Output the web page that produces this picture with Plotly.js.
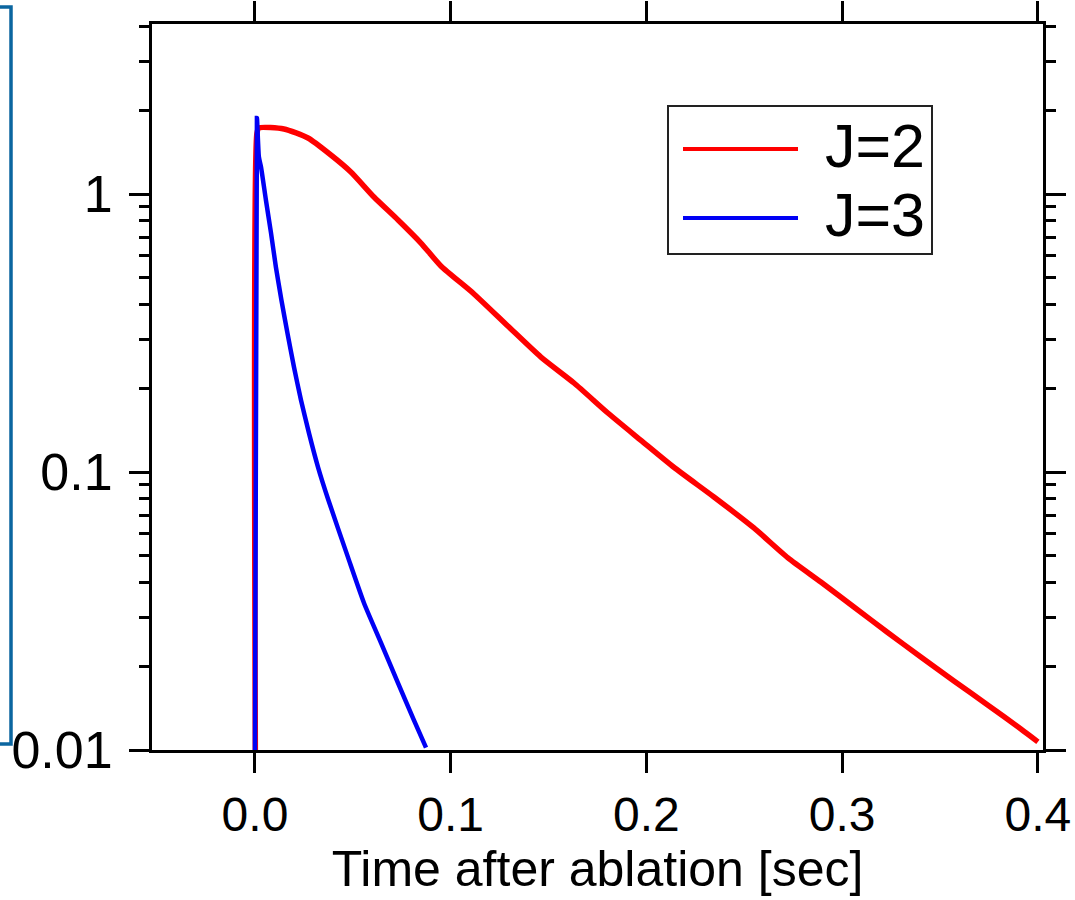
<!DOCTYPE html>
<html>
<head>
<meta charset="utf-8">
<script src="https://cdn.plot.ly/plotly-3.0.1.min.js"></script>
<style>html,body{margin:0;padding:0;background:#fff;}#chart{width:1075px;height:900px;}</style>
</head>
<body>
<div id="chart"></div>
<script>
// Series names
const seriesNames = ["J=2", "J=3"];

// J=2 (red) : time [sec] and signal
const j2Time = [0.0002, 0.0010, 0.0020, 0.0148, 0.0271, 0.0388, 0.0490, 0.0608, 0.0731, 0.0848, 0.0950,
  0.1119, 0.1292, 0.1461, 0.1630, 0.1803, 0.1972, 0.2140, 0.2345, 0.2549, 0.2723, 0.2891,
  0.3060, 0.3234, 0.3402, 0.3571, 0.3745, 0.3913, 0.4000];
const j2Value = [0.0100, 1.650, 1.727, 1.713, 1.590, 1.381, 1.200, 0.975, 0.806, 0.666, 0.551,
  0.437, 0.335, 0.259, 0.209, 0.163, 0.130, 0.104, 0.0813, 0.0629, 0.0491, 0.0402,
  0.0327, 0.0264, 0.0216, 0.0177, 0.0145, 0.0119, 0.0107];

// J=3 (blue) : time [sec] and signal
const j3Time = [0.0000, 0.0010, 0.0020, 0.0031, 0.0056, 0.0082, 0.0107, 0.0135, 0.0166, 0.0199, 0.0235,
  0.0276, 0.0322, 0.0375, 0.0475, 0.0557, 0.0644, 0.0731, 0.0812, 0.0874];
const j3Value = [0.0100, 1.876, 1.36, 1.25, 0.951, 0.724, 0.546, 0.416, 0.316, 0.239, 0.1816,
  0.138, 0.1042, 0.0793, 0.0494, 0.0338, 0.0243, 0.0174, 0.0128, 0.0102];

// Tick labels
const xTickVals = [0.0, 0.1, 0.2, 0.3, 0.4];
const xTickText = ["0.0", "0.1", "0.2", "0.3", "0.4"];
const yTickVals = [0.01, 0.1, 1];
const yTickText = ["0.01", "0.1", "1"];
const yMinorVals = [0.02,0.03,0.04,0.05,0.06,0.07,0.08,0.09,0.2,0.3,0.4,0.5,0.6,0.7,0.8,0.9,2,3,4];
const xTitle = "Time after ablation [sec]";

const colors = ["rgb(255,0,0)", "rgb(0,0,245)"];
const FONT = "Liberation Sans, Arial, Helvetica, sans-serif";

const traces = [
  {x: j2Time, y: j2Value, name: seriesNames[0], type: "scatter", mode: "lines",
   line: {color: colors[0], width: 5.5, shape: "spline", smoothing: 0.6}},
  {x: j3Time, y: j3Value, name: seriesNames[1], type: "scatter", mode: "lines",
   line: {color: colors[1], width: 4.5, shape: "spline", smoothing: 0.6}}
];

// pixel -> paper helpers (plot area: x 152..1043, y 24..750)
const L = 152, R = 1043, T = 24, B = 750;
const px = p => (p - L) / (R - L);
const py = p => (B - p) / (B - T);

const shapes = [
  // blue bracket at left edge
  {type: "path", xref: "paper", yref: "paper",
   path: `M ${px(-5)},${py(7)} L ${px(11)},${py(7)} L ${px(11)},${py(744)} L ${px(-5)},${py(744)}`,
   line: {color: "#0b66a0", width: 3.5}},
  // legend box
  {type: "rect", xref: "paper", yref: "paper", x0: px(668), x1: px(932), y0: py(106), y1: py(254),
   line: {color: "#222", width: 2}, fillcolor: "rgba(255,255,255,1)", layer: "above"},
  {type: "line", xref: "paper", yref: "paper", x0: px(683), x1: px(798), y0: py(149), y1: py(149),
   line: {color: colors[0], width: 4}, layer: "above"},
  {type: "line", xref: "paper", yref: "paper", x0: px(683), x1: px(798), y0: py(218), y1: py(218),
   line: {color: colors[1], width: 4}, layer: "above"}
];

const annotations = [
  {xref: "paper", yref: "paper", x: px(823), y: py(146), xanchor: "left", yanchor: "middle",
   text: seriesNames[0], showarrow: false, font: {family: FONT, size: 61, color: "#000"}},
  {xref: "paper", yref: "paper", x: px(823), y: py(215), xanchor: "left", yanchor: "middle",
   text: seriesNames[1], showarrow: false, font: {family: FONT, size: 61, color: "#000"}}
];

const layout = {
  width: 1075, height: 900,
  margin: {l: L, r: 1075 - R, t: T, b: 900 - B, pad: 0},
  paper_bgcolor: "#fff", plot_bgcolor: "#fff",
  showlegend: false,
  font: {family: FONT, color: "#000"},
  xaxis: {
    range: [-0.0526, 0.4026], tickmode: "array", tickvals: xTickVals, ticktext: xTickText,
    ticks: "outside", ticklen: 20, tickwidth: 3, tickcolor: "#000",
    showline: true, linewidth: 3, linecolor: "#000", mirror: "allticks",
    showgrid: false, zeroline: false,
    tickfont: {family: FONT, size: 48, color: "#000"},
    title: {text: xTitle, font: {family: FONT, size: 50, color: "#000"}, standoff: 12}
  },
  yaxis: {
    type: "log", range: [-2, 0.6115], tickmode: "array", tickvals: yTickVals, ticktext: yTickText,
    ticks: "outside", ticklen: 20, tickwidth: 3, tickcolor: "#000",
    showline: true, linewidth: 3, linecolor: "#000", mirror: "allticks",
    showgrid: false, zeroline: false, ticklabelstandoff: 6,
    tickfont: {family: FONT, size: 52, color: "#000"},
    minor: {tickmode: "array", tickvals: yMinorVals, ticks: "outside", ticklen: 10, tickwidth: 3,
            tickcolor: "#000", showgrid: false}
  },
  shapes: shapes,
  annotations: annotations
};

Plotly.newPlot("chart", traces, layout, {staticPlot: true, displayModeBar: false});
</script>
</body>
</html>
